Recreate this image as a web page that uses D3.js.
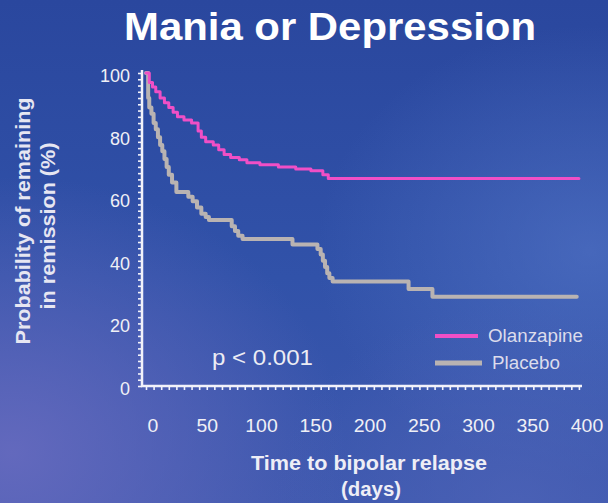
<!DOCTYPE html>
<html>
<head>
<meta charset="utf-8">
<script src="https://cdn.jsdelivr.net/npm/d3@7"></script>
<style>
  html, body { margin: 0; padding: 0; background: #2f4fa6; }
  svg { display: block; }
  text { font-family: "Liberation Sans", Arial, sans-serif; }
</style>
</head>
<body>
<svg id="chart" width="608" height="503"></svg>
<script>
// Kaplan-Meier step data: time (days) and probability of remaining in remission (%)
const olanzapineDays   = [0, 3, 6, 9, 13, 17, 21, 25, 29, 35, 42, 48, 51, 55, 62, 67, 72, 78, 86, 93, 105, 122, 138, 152, 163, 168, 399];
const olanzapineValues = [100, 97, 95.5, 94, 92, 90.5, 89, 87.5, 86, 85, 84, 81.5, 79.5, 78, 77, 75.5, 74, 73, 72.3, 71.3, 70.7, 70, 69.3, 68.8, 67.5, 66.3, 66.3];

const placeboDays   = [0, 2, 3, 5, 7, 9, 11, 13, 15, 17, 19, 21, 24, 28, 39, 43, 47, 51, 55, 58, 79, 82, 85, 89, 135, 158, 161, 163, 165, 167, 169, 172, 242, 264, 397];
const placeboValues = [100, 92, 89, 87, 84, 82, 79.5, 77, 75, 72.5, 70, 67.5, 65, 62, 60.5, 59, 57, 55, 54, 53, 51, 49.5, 48, 47, 45.2, 43.8, 42, 40, 38, 36, 34.5, 33.4, 31, 28.5, 28.5];

const xTickValues = [0, 50, 100, 150, 200, 250, 300, 350, 400];
const yTickValues = [0, 20, 40, 60, 80, 100];
const seriesNames = ["Olanzapine", "Placebo"];
const seriesColors = ["#f04fc6", "#b9b3b2"];

const svg = d3.select("#chart");
const W = 608, H = 503;

// ---- background ----
const defs = svg.append("defs");
const bg = defs.append("linearGradient").attr("id", "bg").attr("x1", 0).attr("y1", 0).attr("x2", 0).attr("y2", 1);
bg.append("stop").attr("offset", "0%").attr("stop-color", "#2a479e");
bg.append("stop").attr("offset", "55%").attr("stop-color", "#3152a9");
bg.append("stop").attr("offset", "100%").attr("stop-color", "#3d58ae");
const glowL = defs.append("radialGradient").attr("id", "glowL").attr("cx", 0.02).attr("cy", 0.9).attr("r", 0.55);
glowL.append("stop").attr("offset", "0%").attr("stop-color", "#6a6cc0").attr("stop-opacity", 0.85);
glowL.append("stop").attr("offset", "100%").attr("stop-color", "#6a6cc0").attr("stop-opacity", 0);
const glowR = defs.append("radialGradient").attr("id", "glowR").attr("cx", 0.97).attr("cy", 0.5).attr("r", 0.45);
glowR.append("stop").attr("offset", "0%").attr("stop-color", "#5576c8").attr("stop-opacity", 0.6);
glowR.append("stop").attr("offset", "100%").attr("stop-color", "#5576c8").attr("stop-opacity", 0);
const glowB = defs.append("radialGradient").attr("id", "glowB").attr("cx", 0.85).attr("cy", 1.0).attr("r", 0.4);
glowB.append("stop").attr("offset", "0%").attr("stop-color", "#4f64b8").attr("stop-opacity", 0.7);
glowB.append("stop").attr("offset", "100%").attr("stop-color", "#4f64b8").attr("stop-opacity", 0);

svg.append("rect").attr("width", W).attr("height", H).attr("fill", "url(#bg)");
svg.append("rect").attr("width", W).attr("height", H).attr("fill", "url(#glowL)");
svg.append("rect").attr("width", W).attr("height", H).attr("fill", "url(#glowR)");
svg.append("rect").attr("width", W).attr("height", H).attr("fill", "url(#glowB)");

// ---- scales ----
const x = d3.scaleLinear().domain([0, 400]).range([146, 580]);
const y = d3.scaleLinear().domain([0, 100]).range([386, 73]);
const axisColor = "#f2f2fa";
const axisLeftX = 142;

// ---- title ----
svg.append("text")
  .attr("x", 124).attr("y", 40)
  .attr("font-size", 38).attr("font-weight", "bold")
  .attr("fill", "#ffffff")
  .attr("textLength", 412).attr("lengthAdjust", "spacingAndGlyphs")
  .text("Mania or Depression");

// ---- y axis ----
const yAxis = d3.axisLeft(y)
  .tickValues(d3.range(0, 101, 2))
  .tickSize(4)
  .tickFormat("");
const gy = svg.append("g").attr("transform", `translate(${axisLeftX},0)`).call(yAxis);
gy.select(".domain").attr("stroke", axisColor).attr("stroke-width", 2.5).attr("d", `M0,${y(100) - 3}V${y(0) + 1}`);
gy.selectAll(".tick line").attr("stroke", axisColor).attr("stroke-width", 1.6);

svg.append("g").selectAll("text").data(yTickValues).join("text")
  .attr("x", 130).attr("y", d => y(d) + 9)
  .attr("text-anchor", "end")
  .attr("font-size", 18)
  .attr("fill", "#f0f0f6")
  .text(d => d);

// ---- x axis ----
const xAxis = d3.axisBottom(x)
  .tickValues(d3.range(0, 400, 7))
  .tickSize(4)
  .tickFormat("");
const gx = svg.append("g").attr("transform", `translate(0,${y(0)})`).call(xAxis);
gx.select(".domain").attr("stroke", axisColor).attr("stroke-width", 2.5).attr("d", `M${axisLeftX - 1},0H582`);
gx.selectAll(".tick line").attr("stroke", axisColor).attr("stroke-width", 1.6);

svg.append("g").selectAll("text").data(xTickValues).join("text")
  .attr("transform", d => `translate(${x(d) + 7},432) scale(1.08,1)`)
  .attr("text-anchor", "middle")
  .attr("font-size", 18)
  .attr("fill", "#f0f0f6")
  .text(d => d);

// ---- axis titles ----
svg.append("text")
  .attr("x", 369).attr("y", 470)
  .attr("text-anchor", "middle")
  .attr("font-size", 20).attr("font-weight", "bold")
  .attr("fill", "#eeeef6")
  .attr("textLength", 236).attr("lengthAdjust", "spacingAndGlyphs")
  .text("Time to bipolar relapse");
svg.append("text")
  .attr("x", 371).attr("y", 496)
  .attr("text-anchor", "middle")
  .attr("font-size", 20).attr("font-weight", "bold")
  .attr("fill", "#eeeef6")
  .attr("textLength", 60).attr("lengthAdjust", "spacingAndGlyphs")
  .text("(days)");

const yTitle = svg.append("g").attr("transform", "rotate(-90)");
yTitle.append("text")
  .attr("x", -221).attr("y", 30)
  .attr("text-anchor", "middle")
  .attr("font-size", 20).attr("font-weight", "bold")
  .attr("fill", "#e6e6f2")
  .attr("textLength", 247).attr("lengthAdjust", "spacingAndGlyphs")
  .text("Probability of remaining");
yTitle.append("text")
  .attr("x", -226).attr("y", 55)
  .attr("text-anchor", "middle")
  .attr("font-size", 20).attr("font-weight", "bold")
  .attr("fill", "#e6e6f2")
  .attr("textLength", 167).attr("lengthAdjust", "spacingAndGlyphs")
  .text("in remission (%)");

// ---- survival curves ----
const series = [
  { name: seriesNames[0], color: seriesColors[0], width: 3, pts: olanzapineDays.map((d, i) => [d, olanzapineValues[i]]) },
  { name: seriesNames[1], color: seriesColors[1], width: 4, pts: placeboDays.map((d, i) => [d, placeboValues[i]]) }
];
const line = d3.line().x(d => x(d[0])).y(d => y(d[1])).curve(d3.curveStepAfter);

// placebo drawn first so olanzapine sits above it
[series[1], series[0]].forEach(s => {
  svg.append("path")
    .attr("d", line(s.pts))
    .attr("fill", "none")
    .attr("stroke", s.color)
    .attr("stroke-width", s.width)
    .attr("stroke-linejoin", "round")
    .attr("stroke-linecap", "round");
});

// ---- p-value ----
svg.append("text")
  .attr("x", 212).attr("y", 365)
  .attr("font-size", 22)
  .attr("fill", "#ececf4")
  .attr("textLength", 101).attr("lengthAdjust", "spacingAndGlyphs")
  .text("p < 0.001");

// ---- legend ----
const legend = svg.append("g");
const legendRows = [
  { y: 336, x2: 478, w: 4, tx: 488, tl: 95 },
  { y: 363, x2: 482, w: 5, tx: 492, tl: 68 }
];
series.forEach((s, i) => {
  const r = legendRows[i];
  legend.append("line")
    .attr("x1", 435).attr("x2", r.x2).attr("y1", r.y).attr("y2", r.y)
    .attr("stroke", s.color).attr("stroke-width", r.w);
  legend.append("text")
    .attr("x", r.tx).attr("y", r.y + 6)
    .attr("font-size", 17.5)
    .attr("fill", "#dcdcec")
    .attr("textLength", r.tl).attr("lengthAdjust", "spacingAndGlyphs")
    .text(s.name);
});
</script>
</body>
</html>
